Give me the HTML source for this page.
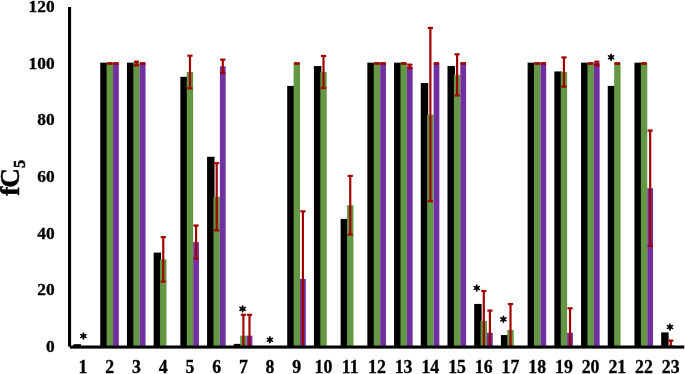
<!DOCTYPE html>
<html><head><meta charset="utf-8"><style>
html,body{margin:0;padding:0;background:#fff;}
body{width:685px;height:374px;overflow:hidden;font-family:"Liberation Serif",serif;}
svg{display:block;will-change:transform;}
</style></head><body>
<svg width="685" height="374" viewBox="0 0 685 374">
<rect width="685" height="374" fill="#fff"/>
<g><rect x="73.51" y="344.17" width="7.45" height="2.83" fill="#000"/><rect x="100.22" y="62.65" width="7.45" height="284.35" fill="#000"/><rect x="106.62" y="62.65" width="6.42" height="284.35" fill="#659844"/><rect x="113.04" y="62.65" width="5.78" height="284.35" fill="#7030A0"/><rect x="126.94" y="62.65" width="7.45" height="284.35" fill="#000"/><rect x="133.34" y="62.65" width="6.42" height="284.35" fill="#659844"/><rect x="139.76" y="62.65" width="5.78" height="284.35" fill="#7030A0"/><rect x="153.65" y="252.59" width="7.45" height="94.41" fill="#000"/><rect x="160.05" y="259.40" width="6.42" height="87.60" fill="#659844"/><rect x="180.36" y="76.82" width="7.45" height="270.18" fill="#000"/><rect x="186.76" y="72.00" width="6.42" height="275.00" fill="#659844"/><rect x="193.18" y="242.11" width="5.78" height="104.89" fill="#7030A0"/><rect x="207.07" y="156.77" width="7.45" height="190.23" fill="#000"/><rect x="213.47" y="196.75" width="6.42" height="150.25" fill="#659844"/><rect x="219.89" y="66.33" width="5.78" height="280.67" fill="#7030A0"/><rect x="233.78" y="343.88" width="7.45" height="3.12" fill="#000"/><rect x="240.18" y="335.66" width="6.42" height="11.34" fill="#659844"/><rect x="246.60" y="335.66" width="5.78" height="11.34" fill="#7030A0"/><rect x="287.21" y="85.90" width="7.45" height="261.10" fill="#000"/><rect x="293.61" y="62.65" width="6.42" height="284.35" fill="#659844"/><rect x="300.03" y="278.96" width="5.78" height="68.04" fill="#7030A0"/><rect x="313.92" y="66.05" width="7.45" height="280.95" fill="#000"/><rect x="320.32" y="72.00" width="6.42" height="275.00" fill="#659844"/><rect x="340.63" y="218.86" width="7.45" height="128.14" fill="#000"/><rect x="347.03" y="205.25" width="6.42" height="141.75" fill="#659844"/><rect x="367.34" y="62.65" width="7.45" height="284.35" fill="#000"/><rect x="373.74" y="62.65" width="6.42" height="284.35" fill="#659844"/><rect x="380.16" y="62.65" width="5.78" height="284.35" fill="#7030A0"/><rect x="394.05" y="62.65" width="7.45" height="284.35" fill="#000"/><rect x="400.45" y="62.65" width="6.42" height="284.35" fill="#659844"/><rect x="406.87" y="66.33" width="5.78" height="280.67" fill="#7030A0"/><rect x="420.77" y="83.06" width="7.45" height="263.94" fill="#000"/><rect x="427.17" y="114.53" width="6.42" height="232.47" fill="#659844"/><rect x="433.59" y="62.65" width="5.78" height="284.35" fill="#7030A0"/><rect x="447.48" y="66.05" width="7.45" height="280.95" fill="#000"/><rect x="453.88" y="74.84" width="6.42" height="272.16" fill="#659844"/><rect x="460.30" y="62.65" width="5.78" height="284.35" fill="#7030A0"/><rect x="474.19" y="303.91" width="7.45" height="43.09" fill="#000"/><rect x="480.59" y="320.92" width="6.42" height="26.08" fill="#659844"/><rect x="487.01" y="332.82" width="5.78" height="14.18" fill="#7030A0"/><rect x="500.90" y="335.09" width="7.45" height="11.91" fill="#000"/><rect x="507.30" y="329.99" width="6.42" height="17.01" fill="#659844"/><rect x="527.62" y="62.65" width="7.45" height="284.35" fill="#000"/><rect x="534.01" y="62.65" width="6.42" height="284.35" fill="#659844"/><rect x="540.43" y="62.65" width="5.78" height="284.35" fill="#7030A0"/><rect x="554.33" y="71.44" width="7.45" height="275.56" fill="#000"/><rect x="560.73" y="72.00" width="6.42" height="275.00" fill="#659844"/><rect x="567.15" y="332.82" width="5.78" height="14.18" fill="#7030A0"/><rect x="581.04" y="62.65" width="7.45" height="284.35" fill="#000"/><rect x="587.44" y="62.65" width="6.42" height="284.35" fill="#659844"/><rect x="593.86" y="62.65" width="5.78" height="284.35" fill="#7030A0"/><rect x="607.75" y="85.90" width="7.45" height="261.10" fill="#000"/><rect x="614.15" y="62.65" width="6.42" height="284.35" fill="#659844"/><rect x="634.46" y="62.65" width="7.45" height="284.35" fill="#000"/><rect x="640.86" y="62.65" width="6.42" height="284.35" fill="#659844"/><rect x="647.28" y="188.24" width="5.78" height="158.76" fill="#7030A0"/><rect x="661.18" y="332.40" width="7.45" height="14.60" fill="#000"/><rect x="667.58" y="345.02" width="6.42" height="1.98" fill="#659844"/></g>
<g stroke="#A00000" stroke-width="2.2" fill="none"><line x1="107.23" y1="63.50" x2="112.43" y2="63.50"/><line x1="107.23" y1="63.50" x2="112.43" y2="63.50"/><line x1="113.33" y1="63.50" x2="118.53" y2="63.50"/><line x1="113.33" y1="63.50" x2="118.53" y2="63.50"/><line x1="136.55" y1="61.66" x2="136.55" y2="65.34"/><line x1="133.95" y1="61.66" x2="139.15" y2="61.66"/><line x1="133.95" y1="65.34" x2="139.15" y2="65.34"/><line x1="140.05" y1="63.50" x2="145.25" y2="63.50"/><line x1="140.05" y1="63.50" x2="145.25" y2="63.50"/><line x1="163.26" y1="237.14" x2="163.26" y2="281.65"/><line x1="160.66" y1="237.14" x2="165.86" y2="237.14"/><line x1="160.66" y1="281.65" x2="165.86" y2="281.65"/><line x1="189.97" y1="55.70" x2="189.97" y2="88.31"/><line x1="187.37" y1="55.70" x2="192.57" y2="55.70"/><line x1="187.37" y1="88.31" x2="192.57" y2="88.31"/><line x1="196.07" y1="225.52" x2="196.07" y2="258.69"/><line x1="193.47" y1="225.52" x2="198.67" y2="225.52"/><line x1="193.47" y1="258.69" x2="198.67" y2="258.69"/><line x1="216.68" y1="163.15" x2="216.68" y2="230.34"/><line x1="214.08" y1="163.15" x2="219.28" y2="163.15"/><line x1="214.08" y1="230.34" x2="219.28" y2="230.34"/><line x1="222.78" y1="59.67" x2="222.78" y2="73.00"/><line x1="220.18" y1="59.67" x2="225.38" y2="59.67"/><line x1="220.18" y1="73.00" x2="225.38" y2="73.00"/><line x1="243.39" y1="314.82" x2="243.39" y2="347.00"/><line x1="240.79" y1="314.82" x2="245.99" y2="314.82"/><line x1="249.49" y1="314.82" x2="249.49" y2="347.00"/><line x1="246.89" y1="314.82" x2="252.09" y2="314.82"/><line x1="294.22" y1="63.50" x2="299.42" y2="63.50"/><line x1="294.22" y1="63.50" x2="299.42" y2="63.50"/><line x1="302.92" y1="211.35" x2="302.92" y2="346.57"/><line x1="300.32" y1="211.35" x2="305.52" y2="211.35"/><line x1="323.53" y1="55.99" x2="323.53" y2="88.02"/><line x1="320.93" y1="55.99" x2="326.13" y2="55.99"/><line x1="320.93" y1="88.02" x2="326.13" y2="88.02"/><line x1="350.24" y1="175.91" x2="350.24" y2="234.59"/><line x1="347.64" y1="175.91" x2="352.84" y2="175.91"/><line x1="347.64" y1="234.59" x2="352.84" y2="234.59"/><line x1="374.35" y1="63.50" x2="379.55" y2="63.50"/><line x1="374.35" y1="63.50" x2="379.55" y2="63.50"/><line x1="380.45" y1="63.50" x2="385.65" y2="63.50"/><line x1="380.45" y1="63.50" x2="385.65" y2="63.50"/><line x1="401.06" y1="63.50" x2="406.26" y2="63.50"/><line x1="401.06" y1="63.50" x2="406.26" y2="63.50"/><line x1="409.76" y1="64.63" x2="409.76" y2="68.04"/><line x1="407.16" y1="64.63" x2="412.37" y2="64.63"/><line x1="407.16" y1="68.04" x2="412.37" y2="68.04"/><line x1="430.38" y1="27.92" x2="430.38" y2="201.14"/><line x1="427.78" y1="27.92" x2="432.98" y2="27.92"/><line x1="427.78" y1="201.14" x2="432.98" y2="201.14"/><line x1="433.88" y1="63.50" x2="439.08" y2="63.50"/><line x1="433.88" y1="63.50" x2="439.08" y2="63.50"/><line x1="457.09" y1="54.29" x2="457.09" y2="95.39"/><line x1="454.49" y1="54.29" x2="459.69" y2="54.29"/><line x1="454.49" y1="95.39" x2="459.69" y2="95.39"/><line x1="460.59" y1="63.50" x2="465.79" y2="63.50"/><line x1="460.59" y1="63.50" x2="465.79" y2="63.50"/><line x1="483.80" y1="291.01" x2="483.80" y2="347.00"/><line x1="481.20" y1="291.01" x2="486.40" y2="291.01"/><line x1="489.90" y1="310.57" x2="489.90" y2="347.00"/><line x1="487.30" y1="310.57" x2="492.50" y2="310.57"/><line x1="510.51" y1="304.05" x2="510.51" y2="347.00"/><line x1="507.91" y1="304.05" x2="513.11" y2="304.05"/><line x1="534.62" y1="63.50" x2="539.82" y2="63.50"/><line x1="534.62" y1="63.50" x2="539.82" y2="63.50"/><line x1="540.72" y1="63.50" x2="545.92" y2="63.50"/><line x1="540.72" y1="63.50" x2="545.92" y2="63.50"/><line x1="563.94" y1="57.40" x2="563.94" y2="86.61"/><line x1="561.34" y1="57.40" x2="566.54" y2="57.40"/><line x1="561.34" y1="86.61" x2="566.54" y2="86.61"/><line x1="570.04" y1="308.30" x2="570.04" y2="347.00"/><line x1="567.44" y1="308.30" x2="572.64" y2="308.30"/><line x1="588.05" y1="63.50" x2="593.25" y2="63.50"/><line x1="588.05" y1="63.50" x2="593.25" y2="63.50"/><line x1="596.75" y1="61.66" x2="596.75" y2="65.34"/><line x1="594.15" y1="61.66" x2="599.35" y2="61.66"/><line x1="594.15" y1="65.34" x2="599.35" y2="65.34"/><line x1="614.76" y1="63.50" x2="619.96" y2="63.50"/><line x1="614.76" y1="63.50" x2="619.96" y2="63.50"/><line x1="641.47" y1="63.50" x2="646.67" y2="63.50"/><line x1="641.47" y1="63.50" x2="646.67" y2="63.50"/><line x1="650.17" y1="130.55" x2="650.17" y2="245.93"/><line x1="647.57" y1="130.55" x2="652.77" y2="130.55"/><line x1="647.57" y1="245.93" x2="652.77" y2="245.93"/><line x1="670.79" y1="340.62" x2="670.79" y2="347.00"/><line x1="668.19" y1="340.62" x2="673.39" y2="340.62"/></g>
<rect x="68" y="7" width="3.1" height="339.6" fill="#000"/>
<rect x="69.8" y="345.5" width="614.5" height="3.1" fill="#000"/>
<g font-family="Liberation Serif" font-weight="bold" font-size="17.5" fill="#000" stroke="#000" stroke-width="0.3"><text x="54.6" y="352.15" text-anchor="end" font-size="17.4">0</text><text x="54.6" y="295.45" text-anchor="end" font-size="17.4">20</text><text x="54.6" y="238.75" text-anchor="end" font-size="17.4">40</text><text x="54.6" y="182.05" text-anchor="end" font-size="17.4">60</text><text x="54.6" y="125.35" text-anchor="end" font-size="17.4">80</text><text x="54.6" y="68.65" text-anchor="end" font-size="17.4">100</text><text x="54.6" y="11.95" text-anchor="end" font-size="17.4">120</text><text x="83.06" y="372.6" text-anchor="middle" font-size="17.8">1</text><text x="109.77" y="372.6" text-anchor="middle" font-size="17.8">2</text><text x="136.49" y="372.6" text-anchor="middle" font-size="17.8">3</text><text x="163.20" y="372.6" text-anchor="middle" font-size="17.8">4</text><text x="189.91" y="372.6" text-anchor="middle" font-size="17.8">5</text><text x="216.62" y="372.6" text-anchor="middle" font-size="17.8">6</text><text x="243.33" y="372.6" text-anchor="middle" font-size="17.8">7</text><text x="270.05" y="372.6" text-anchor="middle" font-size="17.8">8</text><text x="296.76" y="372.6" text-anchor="middle" font-size="17.8">9</text><text x="323.47" y="372.6" text-anchor="middle" font-size="17.8">10</text><text x="350.18" y="372.6" text-anchor="middle" font-size="17.8">11</text><text x="376.89" y="372.6" text-anchor="middle" font-size="17.8">12</text><text x="403.60" y="372.6" text-anchor="middle" font-size="17.8">13</text><text x="430.32" y="372.6" text-anchor="middle" font-size="17.8">14</text><text x="457.03" y="372.6" text-anchor="middle" font-size="17.8">15</text><text x="483.74" y="372.6" text-anchor="middle" font-size="17.8">16</text><text x="510.45" y="372.6" text-anchor="middle" font-size="17.8">17</text><text x="537.16" y="372.6" text-anchor="middle" font-size="17.8">18</text><text x="563.88" y="372.6" text-anchor="middle" font-size="17.8">19</text><text x="590.59" y="372.6" text-anchor="middle" font-size="17.8">20</text><text x="617.30" y="372.6" text-anchor="middle" font-size="17.8">21</text><text x="644.01" y="372.6" text-anchor="middle" font-size="17.8">22</text><text x="670.73" y="372.6" text-anchor="middle" font-size="17.8">23</text></g>
<g fill="#000"><ellipse cx="83.40" cy="334.10" rx="1.85" ry="0.95" transform="rotate(-90 83.40 334.10)"/><ellipse cx="83.40" cy="338.00" rx="1.85" ry="0.95" transform="rotate(-270 83.40 338.00)"/><ellipse cx="85.13" cy="335.05" rx="1.85" ry="0.95" transform="rotate(-30 85.13 335.05)"/><ellipse cx="81.67" cy="335.05" rx="1.85" ry="0.95" transform="rotate(-150 81.67 335.05)"/><ellipse cx="81.67" cy="337.05" rx="1.85" ry="0.95" transform="rotate(-210 81.67 337.05)"/><ellipse cx="85.13" cy="337.05" rx="1.85" ry="0.95" transform="rotate(-330 85.13 337.05)"/><circle cx="83.40" cy="336.05" r="1.3"/><ellipse cx="242.60" cy="306.95" rx="1.85" ry="0.95" transform="rotate(-90 242.60 306.95)"/><ellipse cx="242.60" cy="310.85" rx="1.85" ry="0.95" transform="rotate(-270 242.60 310.85)"/><ellipse cx="244.33" cy="307.90" rx="1.85" ry="0.95" transform="rotate(-30 244.33 307.90)"/><ellipse cx="240.87" cy="307.90" rx="1.85" ry="0.95" transform="rotate(-150 240.87 307.90)"/><ellipse cx="240.87" cy="309.90" rx="1.85" ry="0.95" transform="rotate(-210 240.87 309.90)"/><ellipse cx="244.33" cy="309.90" rx="1.85" ry="0.95" transform="rotate(-330 244.33 309.90)"/><circle cx="242.60" cy="308.90" r="1.3"/><ellipse cx="269.90" cy="337.85" rx="1.85" ry="0.95" transform="rotate(-90 269.90 337.85)"/><ellipse cx="269.90" cy="341.75" rx="1.85" ry="0.95" transform="rotate(-270 269.90 341.75)"/><ellipse cx="271.63" cy="338.80" rx="1.85" ry="0.95" transform="rotate(-30 271.63 338.80)"/><ellipse cx="268.17" cy="338.80" rx="1.85" ry="0.95" transform="rotate(-150 268.17 338.80)"/><ellipse cx="268.17" cy="340.80" rx="1.85" ry="0.95" transform="rotate(-210 268.17 340.80)"/><ellipse cx="271.63" cy="340.80" rx="1.85" ry="0.95" transform="rotate(-330 271.63 340.80)"/><circle cx="269.90" cy="339.80" r="1.3"/><ellipse cx="476.80" cy="286.05" rx="1.85" ry="0.95" transform="rotate(-90 476.80 286.05)"/><ellipse cx="476.80" cy="289.95" rx="1.85" ry="0.95" transform="rotate(-270 476.80 289.95)"/><ellipse cx="478.53" cy="287.00" rx="1.85" ry="0.95" transform="rotate(-30 478.53 287.00)"/><ellipse cx="475.07" cy="287.00" rx="1.85" ry="0.95" transform="rotate(-150 475.07 287.00)"/><ellipse cx="475.07" cy="289.00" rx="1.85" ry="0.95" transform="rotate(-210 475.07 289.00)"/><ellipse cx="478.53" cy="289.00" rx="1.85" ry="0.95" transform="rotate(-330 478.53 289.00)"/><circle cx="476.80" cy="288.00" r="1.3"/><ellipse cx="503.40" cy="317.35" rx="1.85" ry="0.95" transform="rotate(-90 503.40 317.35)"/><ellipse cx="503.40" cy="321.25" rx="1.85" ry="0.95" transform="rotate(-270 503.40 321.25)"/><ellipse cx="505.13" cy="318.30" rx="1.85" ry="0.95" transform="rotate(-30 505.13 318.30)"/><ellipse cx="501.67" cy="318.30" rx="1.85" ry="0.95" transform="rotate(-150 501.67 318.30)"/><ellipse cx="501.67" cy="320.30" rx="1.85" ry="0.95" transform="rotate(-210 501.67 320.30)"/><ellipse cx="505.13" cy="320.30" rx="1.85" ry="0.95" transform="rotate(-330 505.13 320.30)"/><circle cx="503.40" cy="319.30" r="1.3"/><ellipse cx="611.10" cy="55.25" rx="1.85" ry="0.95" transform="rotate(-90 611.10 55.25)"/><ellipse cx="611.10" cy="59.15" rx="1.85" ry="0.95" transform="rotate(-270 611.10 59.15)"/><ellipse cx="612.83" cy="56.20" rx="1.85" ry="0.95" transform="rotate(-30 612.83 56.20)"/><ellipse cx="609.37" cy="56.20" rx="1.85" ry="0.95" transform="rotate(-150 609.37 56.20)"/><ellipse cx="609.37" cy="58.20" rx="1.85" ry="0.95" transform="rotate(-210 609.37 58.20)"/><ellipse cx="612.83" cy="58.20" rx="1.85" ry="0.95" transform="rotate(-330 612.83 58.20)"/><circle cx="611.10" cy="57.20" r="1.3"/><ellipse cx="670.00" cy="325.10" rx="1.85" ry="0.95" transform="rotate(-90 670.00 325.10)"/><ellipse cx="670.00" cy="329.00" rx="1.85" ry="0.95" transform="rotate(-270 670.00 329.00)"/><ellipse cx="671.73" cy="326.05" rx="1.85" ry="0.95" transform="rotate(-30 671.73 326.05)"/><ellipse cx="668.27" cy="326.05" rx="1.85" ry="0.95" transform="rotate(-150 668.27 326.05)"/><ellipse cx="668.27" cy="328.05" rx="1.85" ry="0.95" transform="rotate(-210 668.27 328.05)"/><ellipse cx="671.73" cy="328.05" rx="1.85" ry="0.95" transform="rotate(-330 671.73 328.05)"/><circle cx="670.00" cy="327.05" r="1.3"/></g>
<g transform="translate(19.4,177.8) rotate(-90)" font-family="Liberation Serif" font-weight="bold" font-size="27.2" fill="#000" stroke="#000" stroke-width="0.5"><text x="0" y="0" text-anchor="middle">f<tspan dx="-1">C</tspan><tspan font-size="16.3" dy="6">5</tspan></text></g>
</svg>
</body></html>
